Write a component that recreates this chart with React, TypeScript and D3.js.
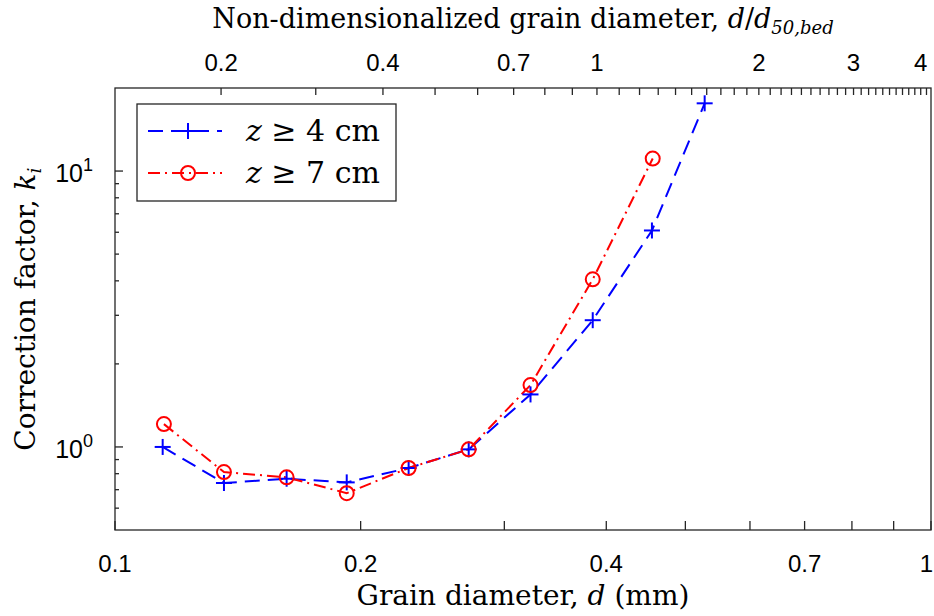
import React from "react";
import * as d3 from "d3";

const diam4 = [0.1144, 0.136, 0.1623, 0.1923, 0.229, 0.2713, 0.323, 0.385, 0.455, 0.528];
const k4 = [1.0, 0.74, 0.767, 0.744, 0.839, 0.98, 1.55, 2.88, 6.09, 17.6];
const diam7 = [0.1148, 0.136, 0.1623, 0.1923, 0.229, 0.2713, 0.323, 0.385, 0.456];
const k7 = [1.21, 0.811, 0.776, 0.68, 0.839, 0.98, 1.676, 4.05, 11.1];

const bottomTicks = [0.1, 0.2, 0.3, 0.4, 0.5, 0.6, 0.7, 0.8, 0.9, 1];
const bottomLabels = ["0.1", "0.2", "0.4", "0.7", "1"];
const topTicks = [
  0.2, 0.3, 0.4, 0.5, 0.6, 0.7, 0.8, 0.9, 1, 1.1, 1.2, 1.3, 1.4, 1.5, 1.6, 1.7, 1.8, 1.9,
  2, 2.1, 2.2, 2.3, 2.4, 2.5, 2.6, 2.7, 2.8, 2.9, 3, 3.1, 3.2, 3.3, 3.4, 3.5, 3.6, 3.7, 3.8, 3.9,
  4, 4.1,
];
const topLabels = ["0.2", "0.4", "0.7", "1", "2", "3", "4"];
const yMajor = [1, 10];
const yMinor = [0.6, 0.7, 0.8, 0.9, 2, 3, 4, 5, 6, 7, 8, 9];

const W = 934;
const H = 616;
const L = 115, R = 931, T = 88, B = 530;

export default function App() {
  const x = d3.scaleLog().domain([0.1, 1]).range([L, R]);
  const xTop = d3.scaleLog().domain([0.127, 4.18]).range([L, R]);
  const y = d3.scaleLog().domain([0.5, 20]).range([B, T]);
  const line = d3
    .line<[number, number]>()
    .x((d) => x(d[0]))
    .y((d) => y(d[1]));
  const pts4: [number, number][] = diam4.map((d, i) => [d, k4[i]]);
  const pts7: [number, number][] = diam7.map((d, i) => [d, k7[i]]);
  const axisColor = "#262626";
  const tickFont = "'Liberation Sans', Arial, Helvetica, sans-serif";
  const serif = "'DejaVu Serif', 'Liberation Serif', serif";
  const blue = "#0000ff";
  const red = "#ff0000";
  const plus = (cx: number, cy: number, key: string | number) => (
    <g key={key} stroke={blue} strokeWidth={2}>
      <line x1={cx - 8} x2={cx + 8} y1={cy} y2={cy} />
      <line x1={cx} x2={cx} y1={cy - 8} y2={cy + 8} />
    </g>
  );
  const circ = (cx: number, cy: number, key: string | number) => (
    <circle key={key} cx={cx} cy={cy} r={7} fill="none" stroke={red} strokeWidth={2} />
  );

  return (
    <svg width={W} height={H} style={{ position: "absolute", left: 0, top: 0, background: "#fff" }}>
      <rect x={0} y={0} width={W} height={H} fill="#fff" />
      <defs>
        <clipPath id="plotclip">
          <rect x={L} y={T} width={R - L} height={B - T} />
        </clipPath>
      </defs>
      {/* data */}
      <g clipPath="url(#plotclip)">
        <path d={line(pts4) || ""} fill="none" stroke={blue} strokeWidth={2} strokeDasharray="15,8" />
        <path d={line(pts7) || ""} fill="none" stroke={red} strokeWidth={2} strokeDasharray="12,5,2,5" />
        {pts4.map((p, i) => plus(x(p[0]), y(p[1]), "p" + i))}
        {pts7.map((p, i) => circ(x(p[0]), y(p[1]), "c" + i))}
      </g>
      {/* frame */}
      <rect x={L} y={T} width={R - L} height={B - T} fill="none" stroke={axisColor} strokeWidth={1.3} />
      {/* bottom ticks */}
      {bottomTicks.map((t, i) => (
        <line key={"bt" + i} x1={x(t)} x2={x(t)} y1={B} y2={B - 9} stroke={axisColor} strokeWidth={1.3} />
      ))}
      {bottomLabels.map((t, i) => {
        const last = i === bottomLabels.length - 1;
        return (
          <text
            key={"bl" + i}
            x={last ? W - 1 : x(+t)}
            y={572}
            textAnchor={last ? "end" : "middle"}
            fontFamily={tickFont}
            fontSize={24}
            fill="#000"
          >
            {t}
          </text>
        );
      })}
      {/* top ticks */}
      {topTicks.map((t, i) => (
        <line key={"tt" + i} x1={xTop(t)} x2={xTop(t)} y1={T} y2={T + 7} stroke={axisColor} strokeWidth={1.3} />
      ))}
      {topLabels.map((t, i) => (
        <text key={"tl" + i} x={xTop(+t)} y={71} textAnchor="middle" fontFamily={tickFont} fontSize={24} fill="#000">
          {t}
        </text>
      ))}
      {/* y ticks */}
      {yMajor.map((t, i) => (
        <line key={"ym" + i} x1={L} x2={L + 8} y1={y(t)} y2={y(t)} stroke={axisColor} strokeWidth={1.3} />
      ))}
      {yMinor.map((t, i) => (
        <line key={"yn" + i} x1={L} x2={L + 4} y1={y(t)} y2={y(t)} stroke={axisColor} strokeWidth={1.3} />
      ))}
      {yMajor.map((t, i) => (
        <text key={"yl" + i} x={93} y={y(t) + 11} textAnchor="end" fontFamily={tickFont} fontSize={25} fill="#000">
          10
          <tspan dy={-11} fontSize={18}>
            {i === 0 ? "0" : "1"}
          </tspan>
        </text>
      ))}
      {/* axis labels */}
      <text x={523} y={605} textAnchor="middle" fontFamily={serif} fontSize={28} fill="#000">
        Grain diameter, <tspan fontStyle="italic">d</tspan> (mm)
      </text>
      <text
        transform={`translate(35, ${(T + B) / 2}) rotate(-90)`}
        textAnchor="middle"
        fontFamily={serif}
        fontSize={28}
        fill="#000"
      >
        Correction factor, <tspan fontStyle="italic">k</tspan>
        <tspan fontStyle="italic" fontSize={19} dy={6}>i</tspan>
      </text>
      <text x={523} y={28} textAnchor="middle" fontFamily={serif} fontSize={27} fill="#000">
        Non-dimensionalized grain diameter, <tspan fontStyle="italic">d</tspan>/<tspan fontStyle="italic">d</tspan>
        <tspan fontStyle="italic" fontSize={18} dy={6}>50,bed</tspan>
      </text>
      {/* legend */}
      <rect x={137} y={104} width={259} height={97} fill="#fff" stroke={axisColor} strokeWidth={1.3} />
      <line x1={148} x2={222} y1={131} y2={131} stroke={blue} strokeWidth={2} strokeDasharray="15,8" />
      {plus(188, 131, "lg1")}
      <line x1={148} x2={222} y1={173} y2={173} stroke={red} strokeWidth={2} strokeDasharray="12,5,2,5" />
      {circ(188, 173, "lg2")}
      <text x={246} y={141} fontFamily={serif} fontSize={30} fill="#000">
        <tspan fontStyle="italic">z</tspan> ≥ 4 cm
      </text>
      <text x={246} y={183} fontFamily={serif} fontSize={30} fill="#000">
        <tspan fontStyle="italic">z</tspan> ≥ 7 cm
      </text>
    </svg>
  );
}
